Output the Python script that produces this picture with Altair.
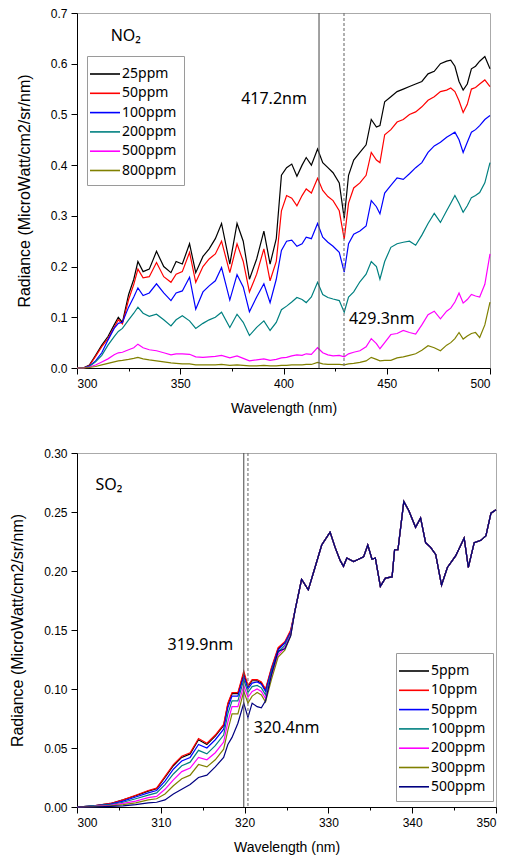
import altair as alt
import pandas as pd

# ---------------- NO2 panel data ----------------
no2_wl = [
    300, 303, 306, 309, 312, 315, 318, 320, 322, 325,
    327.5, 329.5, 332, 335, 338.5, 342, 345.5, 348, 351, 354.5,
    357.5, 361, 364, 367, 370, 374, 377.5, 380.5, 383.5, 387,
    390.5, 393.5, 396.5, 399, 401.5, 404, 406.5, 409, 411, 413.5,
    416.5, 419, 421.5, 424, 427, 429.4, 431.5, 434, 437, 440,
    442.5, 445, 446.7, 449, 452, 455, 458, 461, 464, 467,
    470, 473, 476, 479, 481, 483, 485, 487, 489, 491,
    493, 495, 497.5, 500,
]
no2_25 = [
    0.0, 0.0, 0.006, 0.025, 0.045, 0.062, 0.085, 0.10, 0.09, 0.145,
    0.175, 0.21, 0.19, 0.195, 0.23, 0.20, 0.188, 0.21, 0.205, 0.245,
    0.188, 0.22, 0.235, 0.255, 0.285, 0.205, 0.285, 0.25, 0.175, 0.215,
    0.27, 0.205, 0.255, 0.38, 0.395, 0.402, 0.378, 0.40, 0.415, 0.40,
    0.432, 0.405, 0.395, 0.385, 0.365, 0.295, 0.38, 0.41, 0.425, 0.44,
    0.49, 0.475, 0.478, 0.525, 0.535, 0.545, 0.55, 0.555, 0.56, 0.565,
    0.58, 0.585, 0.6, 0.605, 0.607, 0.595, 0.565, 0.548, 0.56, 0.59,
    0.595, 0.605, 0.614, 0.59,
]
no2_50 = [
    0.0, 0.0, 0.005, 0.023, 0.042, 0.058, 0.08, 0.095, 0.087, 0.135,
    0.165, 0.195, 0.178, 0.18, 0.208, 0.18, 0.169, 0.185, 0.19, 0.228,
    0.169, 0.2, 0.215, 0.225, 0.25, 0.188, 0.245, 0.21, 0.15, 0.185,
    0.235, 0.172, 0.21, 0.31, 0.34, 0.335, 0.32, 0.34, 0.353, 0.345,
    0.374, 0.35, 0.338, 0.33, 0.31, 0.254, 0.325, 0.355, 0.365, 0.38,
    0.425, 0.41, 0.405, 0.46, 0.47, 0.485, 0.49, 0.5, 0.505, 0.515,
    0.528, 0.535, 0.545, 0.548, 0.552, 0.545, 0.527, 0.504, 0.52, 0.55,
    0.553, 0.56, 0.568, 0.555,
]
no2_100 = [
    0.0, 0.0, 0.004, 0.014, 0.03, 0.055, 0.078, 0.088, 0.09, 0.12,
    0.14, 0.158, 0.143, 0.148, 0.166, 0.148, 0.133, 0.148, 0.152, 0.179,
    0.116, 0.15, 0.162, 0.172, 0.198, 0.134, 0.184, 0.16, 0.111, 0.14,
    0.166, 0.129, 0.175, 0.232, 0.25, 0.252, 0.24, 0.245, 0.258, 0.255,
    0.285, 0.258, 0.248, 0.24, 0.228, 0.189, 0.245, 0.264, 0.27, 0.28,
    0.33, 0.318, 0.304, 0.345, 0.36, 0.375, 0.372, 0.383, 0.395, 0.405,
    0.425, 0.438, 0.445, 0.455, 0.46, 0.465, 0.45, 0.425, 0.445, 0.465,
    0.47, 0.478, 0.49, 0.498,
]
no2_200 = [
    0.0, 0.0, 0.003, 0.012, 0.025, 0.045, 0.062, 0.072, 0.078, 0.095,
    0.108, 0.12, 0.108, 0.102, 0.106, 0.095, 0.083, 0.095, 0.103, 0.093,
    0.078, 0.088, 0.095, 0.1, 0.11, 0.08, 0.106, 0.09, 0.064, 0.08,
    0.093, 0.074, 0.09, 0.115, 0.122, 0.13, 0.139, 0.135, 0.129, 0.14,
    0.169, 0.145, 0.139, 0.136, 0.133, 0.11, 0.14, 0.15, 0.17, 0.185,
    0.21, 0.2, 0.175, 0.21, 0.238, 0.245, 0.248, 0.25, 0.242, 0.262,
    0.285, 0.305, 0.287, 0.31, 0.325, 0.34, 0.325, 0.307, 0.32, 0.336,
    0.34, 0.346, 0.365, 0.405,
]
no2_500 = [
    0.0, 0.0, 0.002, 0.006, 0.012, 0.018, 0.026, 0.03, 0.031, 0.036,
    0.04, 0.047, 0.04, 0.036, 0.034, 0.03, 0.026, 0.028, 0.028, 0.027,
    0.022, 0.021, 0.022, 0.023, 0.025, 0.02, 0.024, 0.019, 0.014, 0.016,
    0.018, 0.015, 0.017, 0.02, 0.021, 0.024, 0.026, 0.025, 0.028, 0.027,
    0.04, 0.03, 0.026, 0.024, 0.025, 0.022, 0.028, 0.031, 0.034, 0.042,
    0.058, 0.048, 0.038, 0.05, 0.066, 0.068, 0.074, 0.07, 0.067, 0.085,
    0.105, 0.112, 0.097, 0.112, 0.118, 0.13, 0.148, 0.128, 0.135, 0.145,
    0.142, 0.14, 0.165, 0.225,
]
no2_800 = [
    0.0, 0.0, 0.001, 0.003, 0.006, 0.009, 0.012, 0.014, 0.015, 0.017,
    0.019, 0.021, 0.018, 0.016, 0.014, 0.012, 0.01, 0.009, 0.008, 0.008,
    0.006, 0.006, 0.006, 0.006, 0.007, 0.005, 0.006, 0.005, 0.004, 0.004,
    0.005, 0.004, 0.004, 0.005, 0.005, 0.006, 0.006, 0.006, 0.007, 0.007,
    0.011, 0.008, 0.007, 0.007, 0.007, 0.006, 0.008, 0.009, 0.011, 0.014,
    0.021, 0.017, 0.014, 0.015, 0.015, 0.02, 0.022, 0.025, 0.028, 0.035,
    0.044, 0.04, 0.034, 0.045, 0.05, 0.058, 0.07, 0.057, 0.063, 0.068,
    0.07, 0.06, 0.085, 0.13,
]
no2_series = ["25ppm", "50ppm", "100ppm", "200ppm", "500ppm", "800ppm"]
no2_colors = ["#000000", "#ff0000", "#0000ff", "#008080", "#ff00ff", "#808000"]
no2_marks = [417.2, 429.3]
no2_notes = ["417.2nm", "429.3nm"]

# ---------------- SO2 panel data ----------------
so2_head_wl = [
    300, 302, 304, 305.5, 307, 308.5, 309.5, 310.5, 311.5, 312.5,
    313.5, 314.5, 315.5, 316.5, 317.5, 318, 318.5, 319.2, 319.9, 320.4,
    320.9, 321.5, 322, 322.5, 323.2, 324, 324.8, 325.5,
]
so2_5 = [
    0.0, 0.001, 0.003, 0.006, 0.0095, 0.0135, 0.0155, 0.025, 0.035, 0.042,
    0.045, 0.057, 0.053, 0.06, 0.069, 0.087, 0.096, 0.096, 0.113, 0.102,
    0.107, 0.107, 0.105, 0.099, 0.117, 0.134, 0.139, 0.149,
]
so2_10 = [
    0.0, 0.001, 0.003, 0.006, 0.01, 0.014, 0.016, 0.026, 0.036, 0.043,
    0.046, 0.058, 0.054, 0.061, 0.07, 0.088, 0.097, 0.097, 0.115, 0.103,
    0.108, 0.108, 0.106, 0.1, 0.118, 0.135, 0.14, 0.15,
]
so2_50 = [
    0.0, 0.001, 0.0025, 0.005, 0.0085, 0.012, 0.014, 0.022, 0.032, 0.039,
    0.042, 0.053, 0.05, 0.057, 0.066, 0.084, 0.094, 0.094, 0.111, 0.1,
    0.105, 0.106, 0.104, 0.098, 0.116, 0.133, 0.139, 0.148,
]
so2_100 = [
    0.0, 0.001, 0.002, 0.004, 0.007, 0.01, 0.012, 0.019, 0.028, 0.035,
    0.038, 0.048, 0.045, 0.052, 0.061, 0.079, 0.09, 0.09, 0.108, 0.097,
    0.102, 0.103, 0.101, 0.095, 0.114, 0.131, 0.137, 0.147,
]
so2_200 = [
    0.0, 0.0005, 0.0015, 0.003, 0.005, 0.008, 0.009, 0.015, 0.023, 0.03,
    0.033, 0.042, 0.04, 0.046, 0.055, 0.072, 0.085, 0.085, 0.103, 0.093,
    0.098, 0.1, 0.098, 0.092, 0.111, 0.129, 0.135, 0.146,
]
so2_300 = [
    0.0, 0.0003, 0.001, 0.002, 0.0035, 0.006, 0.007, 0.011, 0.018, 0.024,
    0.027, 0.036, 0.034, 0.04, 0.049, 0.065, 0.079, 0.079, 0.098, 0.088,
    0.094, 0.097, 0.095, 0.089, 0.108, 0.127, 0.133, 0.145,
]
so2_500 = [
    0.0, 0.0, 0.0005, 0.001, 0.002, 0.0035, 0.004, 0.006, 0.011, 0.015,
    0.019, 0.025, 0.027, 0.034, 0.042, 0.053, 0.059, 0.071, 0.088, 0.076,
    0.088, 0.085, 0.084, 0.09, 0.112, 0.132, 0.134, 0.145,
]
# above ~326 nm all concentrations coincide
so2_tail_wl = [
    326, 326.8, 327.6, 328.4, 329.2, 330.2, 330.8, 331.4, 331.8, 332.2,
    333, 333.6, 334.2, 334.7, 335.2, 335.6, 336.2, 336.8, 337.6, 337.9,
    338.3, 339, 339.6, 340.4, 341, 341.6, 342.2, 342.8, 343.5, 344.2,
    345.2, 346.2, 346.7, 347.4, 348.2, 348.8, 349.4, 350,
]
so2_tail = [
    0.166, 0.193, 0.184, 0.203, 0.222, 0.233, 0.22, 0.209, 0.204, 0.211,
    0.208, 0.21, 0.212, 0.222, 0.21, 0.211, 0.187, 0.194, 0.195, 0.218,
    0.218, 0.259, 0.251, 0.237, 0.245, 0.224, 0.22, 0.214, 0.188, 0.203,
    0.213, 0.228, 0.203, 0.224, 0.226, 0.23, 0.249, 0.252,
]
so2_series = ["5ppm", "10ppm", "50ppm", "100ppm", "200ppm", "300ppm", "500ppm"]
so2_colors = ["#000000", "#ff0000", "#0000ff", "#008080", "#ff00ff", "#808000", "#000080"]
so2_marks = [319.9, 320.4]
so2_notes = ["319.9nm", "320.4nm"]

# ---------------- tables ----------------
rows = []
for i, (s, vals) in enumerate(zip(no2_series, [no2_25, no2_50, no2_100, no2_200, no2_500, no2_800])):
    for w, v in zip(no2_wl, vals):
        rows.append({"wl": w, "value": v, "series": s, "k": i})
no2_df = pd.DataFrame(rows)

rows = []
for i, (s, vals) in enumerate(zip(so2_series, [so2_5, so2_10, so2_50, so2_100, so2_200, so2_300, so2_500])):
    for w, v in zip(so2_head_wl + so2_tail_wl, vals + so2_tail):
        rows.append({"wl": w, "value": v, "series": s, "k": i})
so2_df = pd.DataFrame(rows)

one = pd.DataFrame({"a": [0]})

LABEL_FONT = "Liberation Sans"
NOTE_FONT = "Noto Sans"


def legend(x, y):
    return alt.Legend(
        title=None, orient="none", legendX=x, legendY=y,
        symbolType="M-1.5,0H1.5", symbolSize=400, symbolStrokeWidth=1.6,
        labelFont=NOTE_FONT, labelFontSize=14, labelColor="black", labelOffset=6,
        strokeColor="#9a9a9a", fillColor="white", padding=7, rowPadding=1.3,
        cornerRadius=0,
    )


def panel(df, series, colors, xdom, xstep, xminor, ydom, ystep, yminor, yfmt,
          w, h, leg_xy, marks, notes, note_pos, gas_pos, gas_text):
    xvals = []
    v = xdom[0]
    while v <= xdom[1] + 1e-9:
        xvals.append(v)
        v += xminor
    nyv = int(round((ydom[1] - ydom[0]) / yminor))
    yvals = [round(ydom[0] + i * yminor, 4) for i in range(nyv + 1)]
    ymaj = f"abs(datum.value/{ystep} - round(datum.value/{ystep})) < 1e-6"
    xmaj = f"datum.value % {xstep} === 0"

    x_axis = alt.Axis(
        values=xvals, labelExpr=f"{xmaj} ? datum.label : ''",
        tickSize={"condition": {"test": xmaj, "value": 6}, "value": 3},
        title="Wavelength (nm)", titleFontSize=14, titlePadding=12,
        labelPadding=4, labelFontSize=12,
    )
    y_axis = alt.Axis(
        values=yvals, labelExpr=f"{ymaj} ? format(datum.value, '{yfmt}') : ''",
        tickSize={"condition": {"test": ymaj, "value": 6}, "value": 3},
        title="Radiance (MicroWatt/cm2/sr/nm)", titleFontSize=16, titlePadding=18,
        labelPadding=4, labelFontSize=12,
    )
    lines = alt.Chart(df).mark_line(strokeWidth=1.2).encode(
        x=alt.X("wl:Q", scale=alt.Scale(domain=xdom, nice=False, zero=False), axis=x_axis),
        y=alt.Y("value:Q", scale=alt.Scale(domain=ydom, nice=False), axis=y_axis),
        color=alt.Color("series:N", sort=series,
                        scale=alt.Scale(domain=series, range=colors),
                        legend=legend(*leg_xy)),
        detail="k:O",
    )
    solid = alt.Chart(one).mark_rule(color="#555555", strokeWidth=1.1).encode(
        x=alt.datum(marks[0]))
    dashed = alt.Chart(one).mark_rule(color="#707070", strokeWidth=1.1,
                                      strokeDash=[3, 2]).encode(x=alt.datum(marks[1]))
    texts = []
    for t, (px, py) in zip(notes, note_pos):
        texts.append(alt.Chart(one).mark_text(
            font=NOTE_FONT, fontSize=16, align="left", baseline="middle", color="black"
        ).encode(x=alt.datum(px), y=alt.datum(py), text=alt.value(t)))
    gas = alt.Chart(one).mark_text(
        font=NOTE_FONT, fontSize=16, align="left", baseline="middle", color="black"
    ).encode(x=alt.datum(gas_pos[0]), y=alt.datum(gas_pos[1]), text=alt.value(gas_text))
    return alt.layer(lines, solid, dashed, *texts, gas).properties(width=w, height=h)


top = panel(no2_df, no2_series, no2_colors, [300, 500], 50, 25, [0, 0.7], 0.1, 0.05, ".1f",
            413, 355, (10, 43), no2_marks, no2_notes,
            [(379.5, 0.53), (431.7, 0.097)], (316.3, 0.655), "NO₂")
bottom = panel(so2_df, so2_series, so2_colors, [300, 350], 10, 5, [0, 0.30], 0.05, 0.025, ".2f",
               419, 354, (319, 200), so2_marks, so2_notes,
               [(310.8, 0.1375), (321.1, 0.067)], (302.2, 0.273), "SO₂")

chart = alt.ConcatChart(concat=[top, bottom], columns=1, spacing=30).resolve_scale(
    color="independent"
).resolve_legend(
    color="independent"
).properties(
    padding={"left": 9, "top": 6, "right": 4, "bottom": 4},
    background="white",
).configure_view(
    stroke="#aaaaaa", strokeWidth=1
).configure_axis(
    domainColor="black", tickColor="black", labelColor="black", titleColor="black",
    labelFont=LABEL_FONT, titleFont=LABEL_FONT, titleFontWeight="normal", grid=False,
    domainWidth=1, tickWidth=1,
)

chart.save("out.html", embed_options={"renderer": "svg", "actions": False})
